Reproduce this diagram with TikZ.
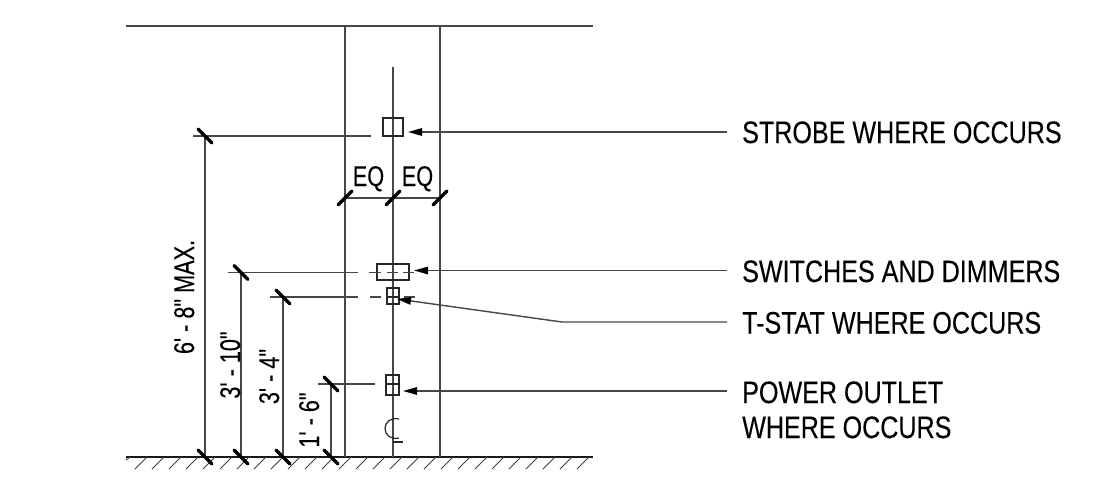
\documentclass[tikz,border=0pt]{standalone}
\usepackage{fontspec}
\setmainfont{Liberation Sans}[Ligatures=TeXOff,FakeBold=0.2]
\usetikzlibrary{arrows.meta}
\newcommand{\lablook}[1]{\scalebox{0.81}[1]{#1}}
\newcommand{\dimlook}[1]{\scalebox{0.76}[1]{#1}}
\tikzset{
  x=1pt,y=-1pt,
  thinline/.style={draw=black!72,line width=1.3pt},
  objline/.style={draw=black!85,line width=1.2pt},
  tick/.style={draw=black,line width=3.3pt,line cap=round},
  hatchline/.style={draw=black!75,line width=1pt},
  leader/.style={draw=black!72,line width=1.4pt,-{Triangle[length=14pt,width=7.5pt,black]}},
  lbl/.style={font=\fontsize{31}{31}\selectfont,inner sep=0pt,anchor=base west,text=black},
  dimtext/.style={font=\fontsize{28.5}{28.5}\selectfont,inner sep=0pt,anchor=base,text=black},
  dimtextv/.style={dimtext,rotate=90},
  device/.style={draw=black!85,line width=1.2pt,inner sep=0pt,fill=none}
}
\begin{document}
\begin{tikzpicture}
\useasboundingbox (0,0) rectangle (1108,491);
% floor, head, jambs
\coordinate (topL) at (126,26); \coordinate (topR) at (593,26);
\coordinate (flL) at (126,457); \coordinate (flR) at (593,457);
\coordinate (jL) at (345,26); \coordinate (jLb) at (345,457);
\coordinate (jR) at (440,26); \coordinate (jRb) at (440,457);
\coordinate (cT) at (393,67); \coordinate (cB) at (393,457);
\draw[thinline] (topL) -- (topR);
\draw[draw=black!90,line width=1.8pt] (flL) -- (flR);
\draw[thinline] (jL) -- (jLb);
\draw[thinline] (jR) -- (jRb);
\draw[thinline] (cT) -- (cB);
% hatch
\draw[hatchline] (126,460) -- (130,457);
\foreach \k in {0,...,26}{
  \draw[hatchline] ({135+17*\k},469) -- ({147+17*\k},457);
}
% devices
\node[device,minimum width=20pt,minimum height=18pt] (strobe) at (393,127) {};
\node[device,minimum width=32pt,minimum height=16pt] (switch) at (393,272) {};
\node[device,minimum width=12pt,minimum height=16pt] (tstat) at (393,296) {};
\node[device,minimum width=13pt,minimum height=20pt] (outlet) at (392.5,385) {};
\draw[objline] (tstat.west |- 0,297) -- (tstat.east |- 0,297);
\draw[objline] (outlet.west |- 0,384) -- (outlet.east |- 0,384);
% centreline symbol
\draw[objline] (399,419) .. controls (391,417) and (385,422) .. (385,428.5) .. controls (385,435) and (391,440) .. (399,438);
\draw[objline] (393,442) -- (403,442);
% dimension lines
\coordinate (a1) at (205,457); \coordinate (a2) at (205,136);
\coordinate (b1) at (241,457); \coordinate (b2) at (241,272.5);
\coordinate (c1) at (283,457); \coordinate (c2) at (283,297);
\coordinate (d1) at (331,457); \coordinate (d2) at (331,384);
\coordinate (e1) at (345,198); \coordinate (e2) at (393,198); \coordinate (e3) at (440,198);
\draw[thinline] (a1) -- (a2);
\draw[thinline] (b1) -- (b2);
\draw[thinline] (c1) -- (c2);
\draw[thinline] (d1) -- (d2);
\draw[thinline] (e1) -- (e3);
% extension lines
\draw[thinline] (193,136) -- (371,136);
\draw[thinline] (228,272.5) -- (358,272.5) (369,272.5) -- (381,272.5) (387,272.5) -- (398,272.5) (403,272.5) -- (414,272.5);
\draw[thinline] (270,297) -- (358,297) (370,297) -- (381,297) (404,297) -- (415,297);
\draw[thinline] (318,384) -- (375,384);
% ticks
\foreach \p in {a1,a2,b1,b2,c1,c2,d1,d2}{
  \draw[tick] ([shift={(-7,-7)}]\p) -- ([shift={(7,7)}]\p);
}
\foreach \p in {e1,e2,e3}{
  \draw[tick] ([shift={(-7,7)}]\p) -- ([shift={(7,-7)}]\p);
}
% labels
\node[lbl] (l1) at (742,143) {\lablook{STROBE WHERE OCCURS}};
\node[lbl] (l2) at (742,282) {\lablook{SWITCHES AND DIMMERS}};
\node[lbl] (l3) at (742,333.5) {\lablook{T-STAT WHERE OCCURS}};
\node[lbl] (l4) at (742,403) {\lablook{POWER OUTLET}};
\node[lbl] (l5) at (742,438) {\lablook{WHERE OCCURS}};
\node[dimtext] (eq1) at (368.5,186) {\dimlook{EQ}};
\node[dimtext] (eq2) at (417.5,186) {\dimlook{EQ}};
\node[dimtextv] (v1) at (194,297) {\dimlook{6' - 8" MAX.}};
\node[dimtextv] (v2) at (240,365) {\dimlook{3' - 10"}};
\node[dimtextv] (v3) at (279,376.5) {\dimlook{3' - 4"}};
\node[dimtextv] (v4) at (319,420) {\dimlook{1' - 6"}};
% leaders
\coordinate (s1) at (727,132); \coordinate (s2) at (408,132);
\coordinate (w1) at (727,270.5); \coordinate (w2) at (414,270.5);
\coordinate (t1) at (727,322); \coordinate (t2) at (562,322); \coordinate (t3) at (397,299);
\coordinate (o1) at (727,391); \coordinate (o2) at (403,391);
\draw[leader] (s1) -- (s2);
\draw[leader] (w1) -- (w2);
\draw[leader] (t1) -- (t2) -- (t3);
\draw[leader] (o1) -- (o2);
\end{tikzpicture}
\end{document}
